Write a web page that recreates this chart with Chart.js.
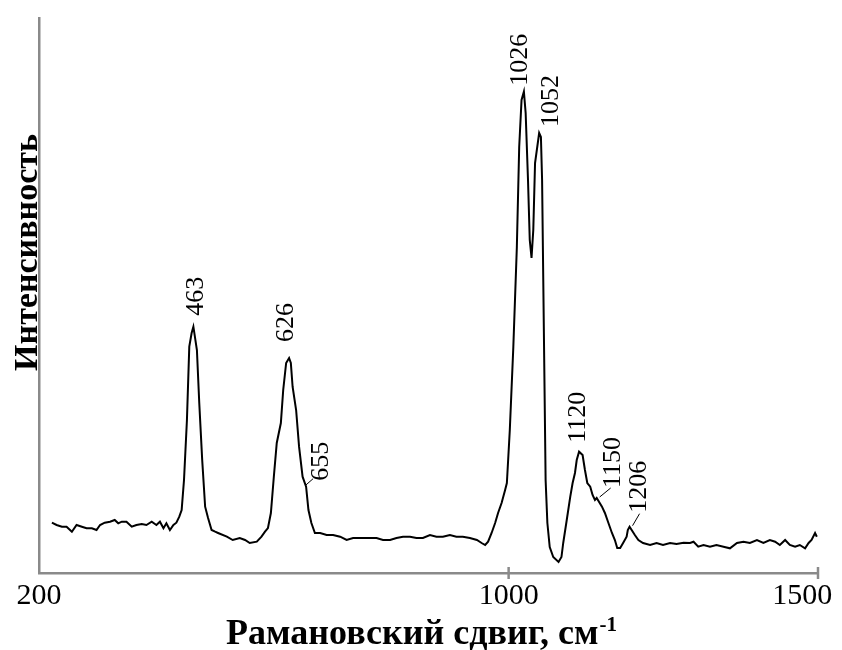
<!DOCTYPE html>
<html>
<head>
<meta charset="utf-8">
<title>Рамановский спектр</title>
<script src="https://cdn.jsdelivr.net/npm/chart.js@4.4.0/dist/chart.umd.min.js"></script>
<style>
  html, body { margin: 0; padding: 0; background: #fff; }
  #wrap { width: 842px; height: 650px; }
</style>
</head>
<body>
<div id="wrap"><canvas id="ramanChart" width="842" height="650"></canvas></div>
<script>
// Raman shift, cm-1
var wavenumbers = [
  222, 230, 239, 247, 256, 264, 273, 281, 290, 298,
  304, 312, 321, 329, 335, 341, 349, 358, 366, 375,
  383, 392, 400, 406, 412, 417, 423, 429, 434, 439,
  443, 447, 452, 456, 460, 463, 469, 473, 478, 483,
  488, 494, 500, 505, 520, 530, 542, 551, 559, 571,
  579, 585, 590, 595, 600, 605, 612, 616, 621, 626,
  629, 632, 638, 643, 649, 655, 659, 664, 670, 679,
  690, 701, 713, 724, 735, 752, 764, 775, 786, 798,
  809, 820, 832, 843, 854, 866, 877, 888, 900, 911,
  922, 934, 946, 954, 960, 965, 971, 977, 982, 988,
  994, 997, 1002, 1008, 1014, 1018, 1022, 1026, 1029, 1033,
  1036, 1039, 1042, 1045, 1052, 1055, 1057, 1059, 1061, 1063,
  1066, 1070, 1076, 1085, 1090, 1093, 1099, 1105, 1109, 1113,
  1116, 1120, 1126, 1130, 1134, 1139, 1143, 1147, 1150, 1159,
  1164, 1170, 1176, 1181, 1185, 1190, 1195, 1201, 1203, 1206,
  1215, 1221, 1229, 1241, 1252, 1263, 1275, 1286, 1298, 1309,
  1315, 1323, 1332, 1343, 1354, 1366, 1377, 1389, 1400, 1411,
  1423, 1434, 1445, 1454, 1462, 1471, 1479, 1488, 1496, 1505,
  1511, 1516, 1522, 1525
];
// intensity, arb. units
var intensities = [
  503, 480, 463, 463, 413, 480, 463, 447, 447, 430,
  480, 503, 513, 530, 497, 513, 513, 463, 480, 490,
  480, 513, 480, 513, 447, 497, 430, 480, 503, 563,
  630, 930, 1530, 2263, 2400, 2463, 2230, 1700, 1130, 663,
  550, 430, 413, 400, 363, 330, 350, 330, 300, 313,
  363, 413, 450, 600, 960, 1300, 1500, 1830, 2100, 2150,
  2100, 1863, 1630, 1263, 963, 863, 630, 500, 400, 400,
  380, 380, 363, 330, 350, 350, 350, 350, 330, 330,
  350, 363, 363, 350, 350, 380, 363, 363, 380, 363,
  363, 350, 330, 300, 280, 313, 400, 500, 600, 700,
  830, 900, 1430, 2260, 3260, 4260, 4730, 4813, 4600, 3930,
  3330, 3150, 3430, 4100, 4400, 4360, 3930, 2930, 1930, 930,
  500, 260, 160, 110, 160, 300, 530, 763, 900, 1000,
  1130, 1213, 1180, 1030, 900, 863, 780, 730, 750, 663,
  600, 500, 400, 330, 250, 250, 300, 363, 430, 463,
  380, 330, 300, 280, 300, 280, 300, 290, 303, 300,
  313, 263, 280, 263, 280, 263, 247, 300, 313, 300,
  330, 300, 330, 313, 280, 330, 280, 263, 280, 247,
  300, 330, 400, 363
];
var xTicks = [200, 1000, 1500];
var peaks = [463, 626, 655, 1026, 1052, 1120, 1150, 1206];

var AXIS_COLOR = '#8a8a8a';
var SERIF = '"Liberation Serif", "Times New Roman", serif';

// label placement around each peak: dx, gap above point, optional leader line
var peakStyle = {
  463:  { dx: 2.5, gap: 11 },
  626:  { dx: -2.5, gap: 16 },
  655:  { dx: 15.5, gap: 6, leader: [-1, -1, 7, -8] },
  1026: { dx: -4, gap: 6 },
  1052: { dx: 12, gap: 6 },
  1120: { dx: -1, gap: 9 },
  1150: { dx: 16, gap: 10, leader: [3, -1, 14, -10] },
  1206: { dx: 9.5, gap: 14, leader: [3, -1, 10, -13] }
};

var points = wavenumbers.map(function (w, i) { return { x: w, y: intensities[i] }; });

var ramanDecor = {
  id: 'ramanDecor',
  afterDraw: function (chart) {
    var ctx = chart.ctx;
    var xs = chart.scales.x, ys = chart.scales.y;
    var area = chart.chartArea;
    ctx.save();

    // tick marks crossing the x axis
    ctx.strokeStyle = AXIS_COLOR;
    ctx.lineWidth = 2.5;
    [1000, xs.max].forEach(function (v) {
      var px = xs.getPixelForValue(v);
      ctx.beginPath();
      ctx.moveTo(px, area.bottom - 6);
      ctx.lineTo(px, area.bottom + 6);
      ctx.stroke();
    });

    // peak labels, rotated
    ctx.fillStyle = '#000';
    ctx.strokeStyle = '#000';
    ctx.lineWidth = 1;
    ctx.font = '26px ' + SERIF;
    peaks.forEach(function (p) {
      var idx = wavenumbers.indexOf(p);
      var px = xs.getPixelForValue(p);
      var py = ys.getPixelForValue(intensities[idx]);
      var st = peakStyle[p];
      if (st.leader) {
        ctx.beginPath();
        ctx.moveTo(px + st.leader[0], py + st.leader[1]);
        ctx.lineTo(px + st.leader[2], py + st.leader[3]);
        ctx.stroke();
      }
      ctx.save();
      ctx.translate(px + st.dx, py - st.gap);
      ctx.rotate(-Math.PI / 2);
      ctx.textAlign = 'left';
      ctx.textBaseline = 'middle';
      ctx.fillText(String(p), 0, 0);
      ctx.restore();
    });

    // y axis title
    ctx.save();
    ctx.font = 'bold 34px ' + SERIF;
    ctx.translate(37, (area.top + area.bottom) / 2 - 43);
    ctx.rotate(-Math.PI / 2);
    ctx.textAlign = 'center';
    ctx.textBaseline = 'alphabetic';
    ctx.fillText('Интенсивность', 0, 0);
    ctx.restore();

    // x axis title with superscript
    var main = 'Рамановский сдвиг, см';
    var sup = '-1';
    ctx.font = 'bold 36px ' + SERIF;
    var wMain = ctx.measureText(main).width;
    ctx.font = 'bold 21px ' + SERIF;
    var wSup = ctx.measureText(sup).width;
    var x0 = 421 - (wMain + wSup) / 2;
    var base = 644;
    ctx.textAlign = 'left';
    ctx.textBaseline = 'alphabetic';
    ctx.font = 'bold 36px ' + SERIF;
    ctx.fillText(main, x0, base);
    ctx.font = 'bold 21px ' + SERIF;
    ctx.fillText(sup, x0 + wMain + 1, base - 13);

    ctx.restore();
  }
};

new Chart(document.getElementById('ramanChart'), {
  type: 'line',
  data: {
    datasets: [{
      data: points,
      borderColor: '#000',
      borderWidth: 2,
      pointRadius: 0,
      tension: 0,
      fill: false
    }]
  },
  options: {
    responsive: false,
    animation: false,
    layout: { padding: { top: 18, right: 24, left: 0, bottom: 0 } },
    plugins: { legend: { display: false }, tooltip: { enabled: false } },
    scales: {
      x: {
        type: 'linear',
        min: 200,
        max: 1527,
        grid: { display: false, drawTicks: false },
        border: { color: AXIS_COLOR, width: 2.5 },
        ticks: {
          font: { family: SERIF, size: 30 },
          color: '#000',
          padding: 5,
          autoSkip: false,
          maxRotation: 0,
          callback: function (v) { return String(v); }
        },
        afterBuildTicks: function (s) {
          s.ticks = xTicks.map(function (v) { return { value: v }; });
        },
        afterFit: function (s) { s.height = 77; }
      },
      y: {
        min: 0,
        max: 5550,
        ticks: { display: false },
        grid: { display: false, drawTicks: false },
        border: { color: AXIS_COLOR, width: 2.5 },
        afterFit: function (s) { s.width = 39; }
      }
    }
  },
  plugins: [ramanDecor]
});
</script>
</body>
</html>
